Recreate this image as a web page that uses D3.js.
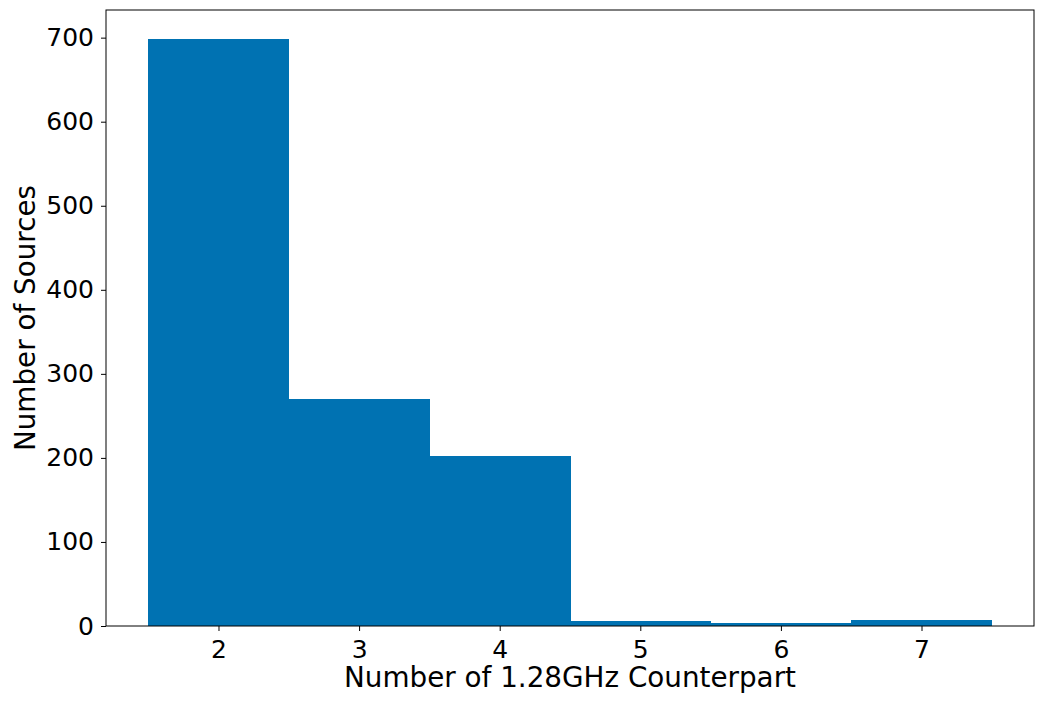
<!DOCTYPE html>
<html>
<head>
<meta charset="utf-8">
<script src="https://cdn.jsdelivr.net/npm/d3@7"></script>
<style>
  body { margin: 0; background: #fff; }
  svg { display: block; font-family: "DejaVu Sans", sans-serif; }
</style>
</head>
<body>
<svg id="chart" width="1046" height="707"></svg>
<script>
// histogram bins: one per counterpart count
const counterparts = [2, 3, 4, 5, 6, 7];
const sourceCounts = [698, 270, 202, 6, 4, 7];
const yTicks = [0, 100, 200, 300, 400, 500, 600, 700];

const width = 1046, height = 707;
const margin = { top: 10, right: 12, bottom: 81, left: 106 };
const innerWidth = width - margin.left - margin.right;
const innerHeight = height - margin.top - margin.bottom;

const svg = d3.select("#chart");
const g = svg.append("g")
    .attr("transform", `translate(${margin.left},${margin.top})`);

const x = d3.scaleLinear()
    .domain([1.2, 7.8])
    .range([0, innerWidth]);

const y = d3.scaleLinear()
    .domain([0, 698 * 1.05])
    .range([innerHeight, 0]);

// BARS
g.selectAll(".bar")
    .data(counterparts.map((c, i) => ({ c, n: sourceCounts[i] })))
    .enter().append("rect")
    .attr("class", "bar")
    .attr("x", d => x(d.c - 0.5))
    .attr("width", d => x(d.c + 0.5) - x(d.c - 0.5) + 0.5)
    .attr("y", d => y(d.n))
    .attr("height", d => innerHeight - y(d.n))
    .attr("fill", "#0072b2")
    .attr("shape-rendering", "crispEdges");

// AXES
const xAxis = g.append("g")
    .attr("transform", `translate(0,${innerHeight})`)
    .call(d3.axisBottom(x).tickValues(counterparts).tickFormat(d3.format("d")).tickSize(5).tickSizeOuter(0));

const yAxis = g.append("g")
    .call(d3.axisLeft(y).tickValues(yTicks).tickFormat(d3.format("d")).tickSize(5).tickSizeOuter(0));

[xAxis, yAxis].forEach(a => {
    a.attr("font-size", 25).attr("font-family", "DejaVu Sans, sans-serif");
    a.select(".domain").remove();
    a.selectAll("line").attr("stroke", "#000").attr("stroke-width", 1);
    a.selectAll("text").attr("fill", "#000");
});
xAxis.selectAll("text").attr("dy", "0.76em").attr("y", 13);
yAxis.selectAll("text").attr("x", -12);

// FRAME
g.append("rect")
    .attr("width", innerWidth)
    .attr("height", innerHeight)
    .attr("fill", "none")
    .attr("stroke", "#000")
    .attr("stroke-width", 1);

// LABELS
g.append("text")
    .attr("x", innerWidth / 2)
    .attr("y", innerHeight + 61)
    .attr("text-anchor", "middle")
    .attr("fill", "#000")
    .attr("font-size", 27.8)
    .text("Number of 1.28GHz Counterpart");

g.append("text")
    .attr("transform", "rotate(-90)")
    .attr("x", -innerHeight / 2)
    .attr("y", -margin.left + 35)
    .attr("text-anchor", "middle")
    .attr("fill", "#000")
    .attr("font-size", 27.8)
    .text("Number of Sources");
</script>
</body>
</html>
